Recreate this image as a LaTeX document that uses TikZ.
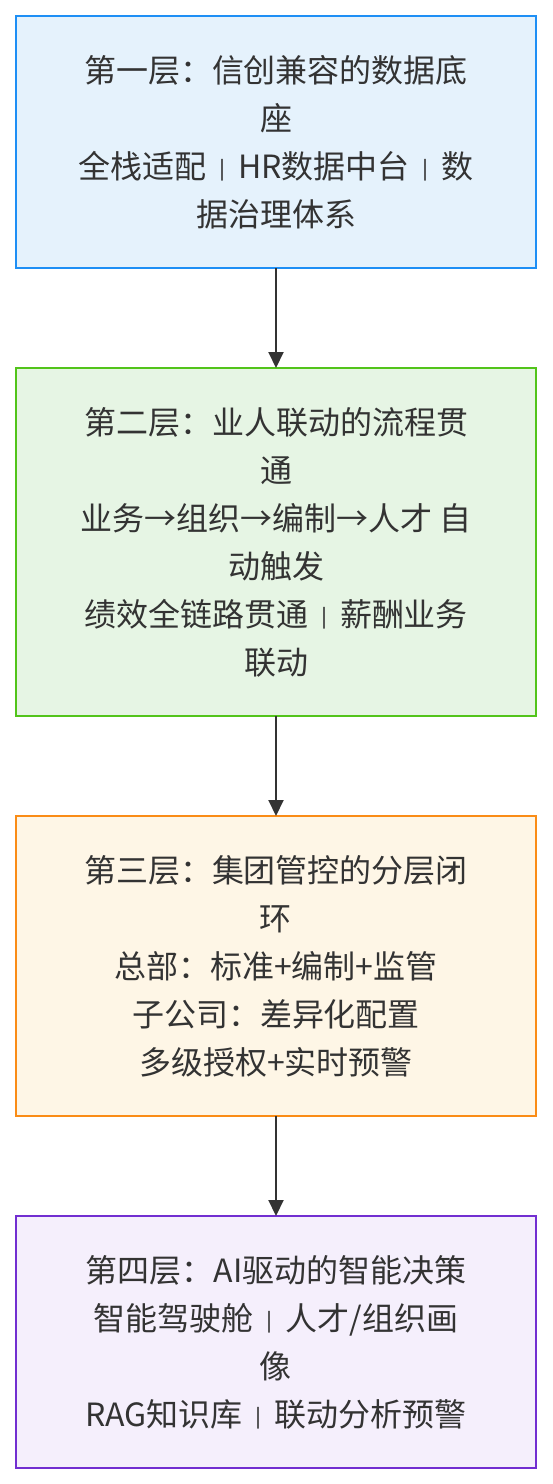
\documentclass[tikz,border=0pt]{standalone}
\usepackage{fontspec}
\usepackage{graphicx}
\setmainfont{Noto Sans CJK SC}
\usetikzlibrary{arrows.meta}
\definecolor{txt}{HTML}{333333}
\definecolor{b1fill}{HTML}{E5F2FC}
\definecolor{b1line}{HTML}{1E8FF5}
\definecolor{b2fill}{HTML}{E6F5E4}
\definecolor{b2line}{HTML}{52C41A}
\definecolor{b3fill}{HTML}{FEF6E6}
\definecolor{b3line}{HTML}{FA8C16}
\definecolor{b4fill}{HTML}{F5EFFC}
\definecolor{b4line}{HTML}{722ED1}
\newcommand\vsepbar{\scalebox{1}[0.68]{\textbf{｜}}}
\tikzset{
  layer/.style={rectangle, line width=2pt, minimum width=520pt, inner sep=0pt, outer sep=0pt,
    align=center, text=txt, font=\fontsize{32pt}{48pt}\selectfont},
  flow/.style={-{Triangle[width=15pt,length=16pt]}, line width=2pt, draw=txt}
}
\begin{document}
\begin{tikzpicture}[x=1pt,y=-1pt]
\useasboundingbox[fill=white] (0,0) rectangle (552,1484);
\node[layer, draw=b1line, fill=b1fill, minimum height=252pt] (l1) at (276,142)
  {第一层：信创兼容的数据底\\座\\全栈适配\vsepbar HR数据中台\vsepbar 数\\据治理体系};
\node[layer, draw=b2line, fill=b2fill, minimum height=348pt] (l2) at (276,542)
  {第二层：业人联动的流程贯\\通\\业务→组织→编制→人才 自\\动触发\\绩效全链路贯通\vsepbar 薪酬业务\\联动};
\node[layer, draw=b3line, fill=b3fill, minimum height=300pt] (l3) at (276,966)
  {第三层：集团管控的分层闭\\环\\总部：标准+编制+监管\\子公司：差异化配置\\多级授权+实时预警};
\node[layer, draw=b4line, fill=b4fill, minimum height=252pt] (l4) at (276,1342)
  {第四层：AI驱动的智能决策\\智能驾驶舱\vsepbar 人才/组织画\\像\\RAG知识库\vsepbar 联动分析预警};
\draw[flow] (l1) -- (l2);
\draw[flow] (l2) -- (l3);
\draw[flow] (l3) -- (l4);
\end{tikzpicture}
\end{document}
